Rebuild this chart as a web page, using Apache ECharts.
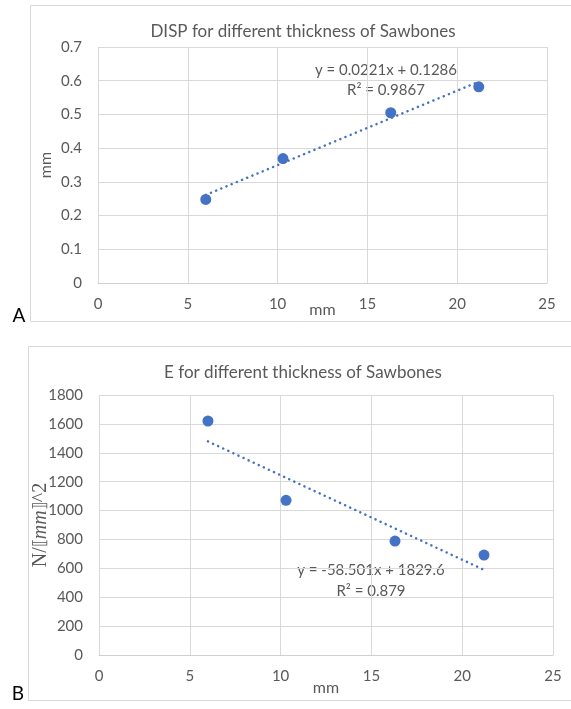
<!DOCTYPE html>
<html>
<head>
<meta charset="utf-8">
<script src="https://cdn.jsdelivr.net/npm/echarts@6/dist/echarts.min.js"></script>
<style>
  html, body { margin: 0; padding: 0; background: #ffffff; }
  #chart { width: 571px; height: 709px; }
</style>
</head>
<body>
<div id="chart"></div>
<script>
// Sawbones thickness (mm) tested
const thickness = [6.0, 10.3, 16.3, 21.2];
// Panel A: displacement (mm)
const dispValues = [0.248, 0.369, 0.505, 0.582];
// Panel B: modulus E (N/mm^2)
const modulusValues = [1620, 1071, 789, 692];

// Linear trendlines: [slope, intercept], and their R²
const dispFit = [0.0221, 0.1286];
const dispR2 = 0.9867;
const modulusFit = [-58.501, 1829.6];
const modulusR2 = 0.879;

// Axis ranges: [min, max, interval]
const xRange = [0, 25, 5];
const dispRange = [0, 0.7, 0.1];
const modulusRange = [0, 1800, 200];

const titleA = 'DISP for different thickness of Sawbones';
const titleB = 'E for different thickness of Sawbones';

const FONT = 'Lato';
const TEXT = '#595959';
const GRID = '#d9d9d9';
const BLUE = '#4472C4';

function fitLine(fit) {
  const lo = Math.min(...thickness), hi = Math.max(...thickness);
  return [[lo, fit[0] * lo + fit[1]], [hi, fit[0] * hi + fit[1]]];
}
function fitText(fit) {
  const sign = fit[1] < 0 ? ' - ' : ' + ';
  return 'y = ' + fit[0] + 'x' + sign + Math.abs(fit[1]);
}

function xAxisFor(gridIndex, gap) {
  return {
    type: 'value', gridIndex,
    min: xRange[0], max: xRange[1], interval: xRange[2],
    name: 'mm', nameLocation: 'middle', nameGap: gap, nameMoveOverlap: false,
    nameTextStyle: { color: TEXT, fontFamily: FONT, fontSize: 16 },
    axisLine: { show: true, lineStyle: { color: '#d0d0d0', width: 1 } },
    axisTick: { show: false },
    axisLabel: { color: TEXT, fontFamily: FONT, fontSize: 15, margin: 14 },
    splitLine: { show: true, lineStyle: { color: GRID, width: 1 } }
  };
}
function yAxisFor(gridIndex, range, name, gap, nameStyle) {
  return {
    type: 'value', gridIndex,
    min: range[0], max: range[1], interval: range[2],
    name, nameLocation: 'middle', nameGap: gap, nameRotate: 90, nameMoveOverlap: false,
    nameTextStyle: nameStyle,
    axisLine: { show: false },
    axisTick: { show: false },
    axisLabel: { color: TEXT, fontFamily: FONT, fontSize: 15, margin: 16,
                 formatter: v => String(v) },
    splitLine: { show: true, lineStyle: { color: GRID, width: 1 } }
  };
}

const dotted = { color: BLUE, width: 2.5, type: [0.1, 5.5], cap: 'round' };

const chart = echarts.init(document.getElementById('chart'), null, { renderer: 'canvas' });

const option = {
  backgroundColor: '#ffffff',
  animation: false,
  grid: [
    { left: 98, top: 47, width: 449, height: 236 },
    { left: 99, top: 395, width: 454, height: 260 }
  ],
  xAxis: [xAxisFor(0, 19), xAxisFor(1, 25)],
  yAxis: [
    yAxisFor(0, dispRange, 'mm', 44,
      { color: TEXT, fontFamily: FONT, fontSize: 16 }),
    yAxisFor(1, modulusRange, '{s|N/}{b|⟦}{i|mm}{b|⟧}{s|^2}', 48, {
      color: TEXT,
      rich: {
        s: { color: TEXT, fontFamily: 'Liberation Serif', fontSize: 20 },
        b: { color: TEXT, fontFamily: 'DejaVu Serif', fontSize: 17 },
        i: { color: TEXT, fontFamily: 'Liberation Serif', fontStyle: 'italic', fontSize: 20 }
      }
    })
  ],
  series: [
    {
      type: 'scatter', xAxisIndex: 0, yAxisIndex: 0,
      data: thickness.map((x, i) => [x, dispValues[i]]),
      symbolSize: 11, itemStyle: { color: BLUE, opacity: 1 }, z: 3
    },
    {
      type: 'line', xAxisIndex: 0, yAxisIndex: 0,
      data: fitLine(dispFit), showSymbol: false, symbol: 'none',
      lineStyle: dotted, z: 4
    },
    {
      type: 'scatter', xAxisIndex: 1, yAxisIndex: 1,
      data: thickness.map((x, i) => [x, modulusValues[i]]),
      symbolSize: 11, itemStyle: { color: BLUE, opacity: 1 }, z: 3
    },
    {
      type: 'line', xAxisIndex: 1, yAxisIndex: 1,
      data: fitLine(modulusFit), showSymbol: false, symbol: 'none',
      lineStyle: dotted, z: 4
    }
  ],
  graphic: [
    // chart frames
    { type: 'rect', shape: { x: 30.5, y: 5.5, width: 560, height: 316 },
      style: { fill: 'none', stroke: GRID, lineWidth: 1 }, z: -1 },
    { type: 'rect', shape: { x: 28.5, y: 346.5, width: 560, height: 354 },
      style: { fill: 'none', stroke: GRID, lineWidth: 1 }, z: -1 },
    // titles
    { type: 'text', x: 303, y: 32,
      style: { text: titleA, fill: TEXT, font: '17px Lato', align: 'center', verticalAlign: 'middle' } },
    { type: 'text', x: 303, y: 373,
      style: { text: titleB, fill: TEXT, font: '17px Lato', align: 'center', verticalAlign: 'middle' } },
    // trendline equations
    { type: 'text', x: 386, y: 70,
      style: { text: fitText(dispFit), fill: TEXT, font: '15px Lato', align: 'center', verticalAlign: 'middle' } },
    { type: 'text', x: 386, y: 90,
      style: { text: 'R² = ' + dispR2, fill: TEXT, font: '15px Lato', align: 'center', verticalAlign: 'middle' } },
    { type: 'text', x: 371, y: 570,
      style: { text: fitText(modulusFit), fill: TEXT, font: '15px Lato', align: 'center', verticalAlign: 'middle' } },
    { type: 'text', x: 371, y: 591,
      style: { text: 'R² = ' + modulusR2, fill: TEXT, font: '15px Lato', align: 'center', verticalAlign: 'middle' } },
    // panel letters
    { type: 'text', x: 19, y: 316,
      style: { text: 'A', fill: '#000000', font: '19px Lato', align: 'center', verticalAlign: 'middle' } },
    { type: 'text', x: 18, y: 694,
      style: { text: 'B', fill: '#000000', font: '19px Lato', align: 'center', verticalAlign: 'middle' } }
  ]
};

chart.setOption(option);
</script>
</body>
</html>
